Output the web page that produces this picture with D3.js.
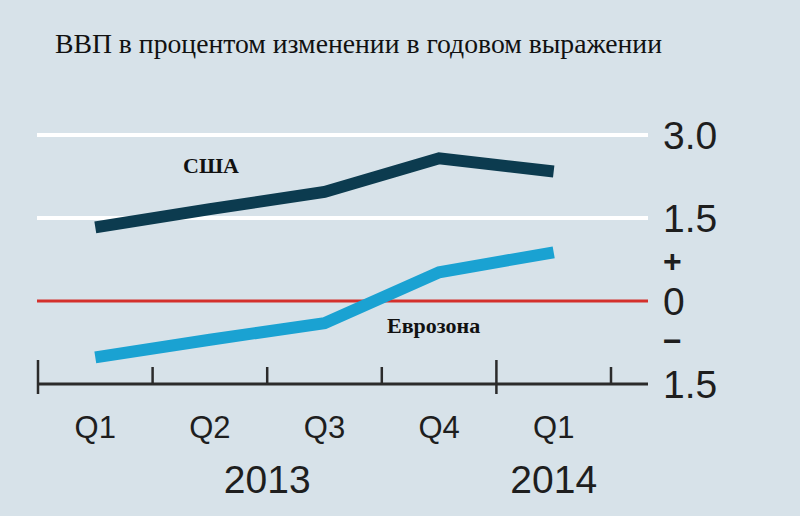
<!DOCTYPE html>
<html>
<head>
<meta charset="utf-8">
<script src="https://cdn.jsdelivr.net/npm/d3@7"></script>
<style>
  body { margin: 0; background: #d7e2e9; }
</style>
</head>
<body>
<div id="chart"></div>
<script>
var quarters = ['Q1', 'Q2', 'Q3', 'Q4', 'Q1'];
var years = [{ label: '2013', from: 0, to: 4 }, { label: '2014', from: 4, to: 5 }];
var usa = [1.33, 1.66, 1.97, 2.58, 2.34];
var eurozone = [-1.02, -0.70, -0.40, 0.52, 0.88];
var gridValues = [3.0, 1.5];
var yLabels = [
  { text: '3.0', v: 3.0 },
  { text: '1.5', v: 1.5 },
  { text: '+', v: 0.70 },
  { text: '0', v: 0 },
  { text: '\u2212', v: -0.74 },
  { text: '1.5', v: -1.5 }
];

var chart_width = 800;
var chart_height = 516;

var svg = d3.select('#chart')
  .append('svg')
  .attr('width', chart_width)
  .attr('height', chart_height);

svg.append('rect')
  .attr('width', chart_width)
  .attr('height', chart_height)
  .attr('fill', '#d7e2e9');

// 6 quarter slots, the last one empty (Q2 2014)
var x_scale = d3.scaleLinear()
  .domain([0, 5])
  .range([38, 611]);

var y_scale = d3.scaleLinear()
  .domain([-1.5, 3.0])
  .range([384, 135]);

var mid = function(i) { return x_scale(i + 0.5); };
var isSign = function(d) { return d.text === '+' || d.text === '\u2212'; };

svg.append('text')
  .text('ВВП в процентом изменении в годовом выражении')
  .attr('x', 55)
  .attr('y', 53)
  .attr('font-family', 'Liberation Serif, Times New Roman, serif')
  .attr('font-size', 28)
  .attr('textLength', 607)
  .attr('lengthAdjust', 'spacingAndGlyphs')
  .attr('fill', '#111');

// gridlines
svg.selectAll('line.grid')
  .data(gridValues)
  .enter()
  .append('line')
  .attr('class', 'grid')
  .attr('x1', 37)
  .attr('x2', 648)
  .attr('y1', function(d) { return y_scale(d); })
  .attr('y2', function(d) { return y_scale(d); })
  .attr('stroke', '#ffffff')
  .attr('stroke-width', 4);

svg.append('line')
  .attr('x1', 37)
  .attr('x2', 648)
  .attr('y1', y_scale(0))
  .attr('y2', y_scale(0))
  .attr('stroke', '#d4302c')
  .attr('stroke-width', 3);

// x axis
var axis = d3.axisBottom(x_scale)
  .tickValues([0, 1, 2, 3, 4, 5])
  .tickSize(0)
  .tickFormat('');

var gx = svg.append('g')
  .attr('transform', 'translate(0,' + y_scale(-1.5) + ')')
  .call(axis);
gx.select('.domain').remove();

gx.append('line')
  .attr('x1', 37)
  .attr('x2', 648)
  .attr('stroke', '#2b2b2b')
  .attr('stroke-width', 3);

gx.selectAll('line.tk')
  .data([0, 1, 2, 3, 4, 5])
  .enter()
  .append('line')
  .attr('class', 'tk')
  .attr('x1', function(d) { return x_scale(d); })
  .attr('x2', function(d) { return x_scale(d); })
  .attr('y1', function(d) { return (d === 0 || d === 4) ? -24 : -17; })
  .attr('y2', function(d) { return (d === 0 || d === 4) ? 10 : 1; })
  .attr('stroke', '#2b2b2b')
  .attr('stroke-width', 2.5);

svg.selectAll('text.q')
  .data(quarters)
  .enter()
  .append('text')
  .attr('class', 'q')
  .text(function(d) { return d; })
  .attr('x', function(d, i) { return mid(i); })
  .attr('y', 438)
  .attr('text-anchor', 'middle')
  .attr('font-family', 'Liberation Sans, Arial, sans-serif')
  .attr('font-size', 31)
  .attr('fill', '#1e1e1e');

svg.selectAll('text.yr')
  .data(years)
  .enter()
  .append('text')
  .attr('class', 'yr')
  .text(function(d) { return d.label; })
  .attr('x', function(d) { return d.label === '2013' ? x_scale(2) : mid(4); })
  .attr('y', 493)
  .attr('text-anchor', 'middle')
  .attr('font-family', 'Liberation Sans, Arial, sans-serif')
  .attr('font-size', 39)
  .attr('fill', '#1e1e1e');

svg.selectAll('text.yl')
  .data(yLabels)
  .enter()
  .append('text')
  .attr('class', 'yl')
  .text(function(d) { return d.text; })
  .attr('x', 663)
  .attr('y', function(d) { return y_scale(d.v) + (isSign(d) ? 10 : 14); })
  .attr('font-family', 'Liberation Sans, Arial, sans-serif')
  .attr('font-weight', function(d) { return isSign(d) ? 'bold' : 'normal'; })
  .attr('font-size', function(d) { return isSign(d) ? 32 : 39; })
  .attr('fill', '#1e1e1e');

var line = d3.line()
  .x(function(d, i) { return mid(i); })
  .y(function(d) { return y_scale(d); });

svg.append('path')
  .datum(usa)
  .attr('d', line)
  .attr('fill', 'none')
  .attr('stroke', '#0c3b4f')
  .attr('stroke-width', 12);

svg.append('path')
  .datum(eurozone)
  .attr('d', line)
  .attr('fill', 'none')
  .attr('stroke', '#1aa2d2')
  .attr('stroke-width', 12);

svg.append('text')
  .text('США')
  .attr('x', 183)
  .attr('y', 173)
  .attr('font-family', 'Liberation Serif, Times New Roman, serif')
  .attr('font-weight', 'bold')
  .attr('font-size', 22)
  .attr('fill', '#111');

svg.append('text')
  .text('Еврозона')
  .attr('x', 387)
  .attr('y', 333)
  .attr('font-family', 'Liberation Serif, Times New Roman, serif')
  .attr('font-weight', 'bold')
  .attr('font-size', 22)
  .attr('fill', '#111');
</script>
</body>
</html>
